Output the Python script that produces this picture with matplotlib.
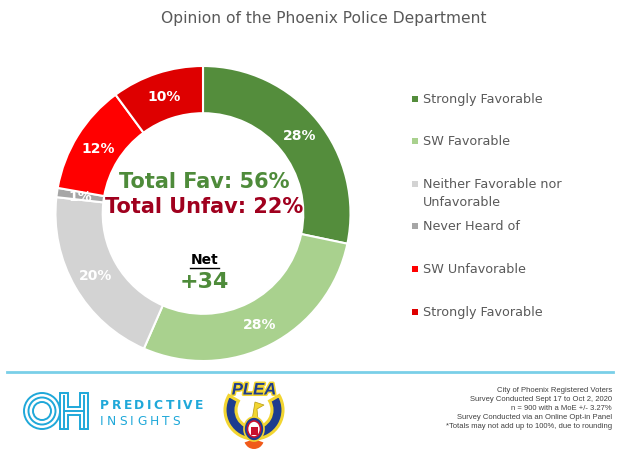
import matplotlib
matplotlib.use("Agg")
import matplotlib.pyplot as plt
import matplotlib.patheffects as pe
from matplotlib.patches import Circle, Rectangle, Ellipse, Wedge, Polygon
from matplotlib.lines import Line2D

# ---- data ----
categories = ["Strongly Favorable", "SW Favorable", "Neither Favorable nor\nUnfavorable",
              "Never Heard of", "SW Unfavorable", "Strongly Favorable"]
values = [28, 28, 20, 1, 12, 10]
colors = ["#548D3C", "#A9D18E", "#D3D3D3", "#A6A6A6", "#FF0000", "#DE0000"]
title = "Opinion of the Phoenix Police Department"
total_fav = "Total Fav: 56%"
total_unfav = "Total Unfav: 22%"
net_label = "Net"
net_value = "+34"
footnote = ["City of Phoenix Registered Voters",
            "Survey Conducted Sept 17 to Oct 2, 2020",
            "n = 900 with a MoE +/- 3.27%",
            "Survey Conducted via an Online Opt-in Panel",
            "*Totals may not add up to 100%, due to rounding"]

W, H = 620, 456
fig = plt.figure(figsize=(W / 100, H / 100), dpi=100)
fig.patch.set_facecolor("white")
renderer = fig.canvas.get_renderer()

def fx(px):
    return px / W

def fy(py):
    return 1 - py / H

# ---- donut ----
cx, cy, R = 203, 214.5, 147.5
ax = fig.add_axes([fx(cx - R), fy(cy + R), 2 * R / W, 2 * R / H])
wedges, texts = ax.pie(values, colors=colors, startangle=90, counterclock=False,
                       radius=1, labels=[f"{v}%" for v in values], labeldistance=0.84,
                       wedgeprops=dict(width=0.32, edgecolor="white", linewidth=1.5),
                       textprops=dict(color="white", fontsize=10, fontweight="bold"))
for t in texts:
    t.set_ha("center")
    t.set_va("center")
ax.set_xlim(-1, 1)
ax.set_ylim(-1, 1)
ax.set_aspect("equal")
ax.axis("off")

ax.text(0.01, 0.22, total_fav, ha="center", va="center", color="#4E8B3A",
        fontsize=15, fontweight="bold")
ax.text(0.01, 0.05, total_unfav, ha="center", va="center", color="#A0001E",
        fontsize=15, fontweight="bold")
ax.text(0.01, -0.31, net_label, ha="center", va="center", color="black",
        fontsize=10, fontweight="bold")
ax.plot([-0.09, 0.11], [-0.37, -0.37], color="black", lw=1)
ax.text(0.01, -0.46, net_value, ha="center", va="center", color="#4E8B3A",
        fontsize=16, fontweight="bold")

# ---- title ----
fig.text(fx(324), fy(18), title, ha="center", va="center", color="#595959", fontsize=11.2)

# ---- legend ----
leg_y = [100, 142, 185, 227, 270, 313]
for c, lab, y in zip(colors, categories, leg_y):
    fig.patches.append(Rectangle((fx(412), fy(y + 3)), 6 / W, 6 / H,
                                 transform=fig.transFigure, facecolor=c, edgecolor="none"))
    parts = lab.split("\n")
    for j, p in enumerate(parts):
        fig.text(fx(423), fy(y + 18 * j), p, ha="left", va="center",
                 color="#595959", fontsize=9.2)

# ---- footer line ----
fig.lines.append(Line2D([fx(7), fx(613)], [fy(373), fy(373)], transform=fig.transFigure,
                        color="#7ACFE8", lw=2))

# ---- OH logo ----
blue = "#1FA8D9"
lax = fig.add_axes([fx(22), fy(434), 68 / W, 44 / H])
lax.set_xlim(0, 68)
lax.set_ylim(0, 44)
lax.set_aspect("equal")
lax.axis("off")
for r in (18, 13.5, 9):
    lax.add_patch(Circle((20, 22), r, fill=False, edgecolor=blue, lw=1.4))
xl, xr, bw, y0, y1, cb = 38, 66, 8, 4, 40, 4
hpts = [(xl, y0), (xl + bw, y0), (xl + bw, 22 - cb), (xr - bw, 22 - cb), (xr - bw, y0),
        (xr, y0), (xr, y1), (xr - bw, y1), (xr - bw, 22 + cb), (xl + bw, 22 + cb),
        (xl + bw, y1), (xl, y1)]
lax.add_patch(Polygon(hpts, closed=True, fill=False, edgecolor=blue, lw=1.4))
lax.plot([xl + bw / 2, xl + bw / 2], [y0 + 2.5, y1 - 2.5], color=blue, lw=1.4)
lax.plot([xr - bw / 2, xr - bw / 2], [y0 + 2.5, y1 - 2.5], color=blue, lw=1.4)
lax.plot([xl + bw / 2, xr - bw / 2], [22, 22], color=blue, lw=1.4)

def spaced(word, x0, y, gap, **kw):
    x = x0
    for ch in word:
        t = fig.text(fx(x), fy(y), ch, ha="left", va="center", **kw)
        bb = t.get_window_extent(renderer=renderer)
        x += bb.width + gap

spaced("PREDICTIVE", 100, 406, 2.5, color=blue, fontsize=8.8, fontweight="bold")
spaced("INSIGHTS", 100, 422, 3.2, color=blue, fontsize=8.8)

# ---- PLEA badge ----
pax = fig.add_axes([fx(222), fy(455), 64 / W, 78 / H])
pax.set_xlim(0, 64)
pax.set_ylim(0, 78)
pax.set_aspect("equal")
pax.axis("off")
navy = "#1D3C8F"
yellow = "#F2D531"
pax.add_patch(Wedge((32, 15), 10, 200, 340, facecolor="#F05A1A", edgecolor="none"))
pax.add_patch(Wedge((32, 44), 29, 150, 390, width=11, facecolor=navy,
                    edgecolor=yellow, lw=2.2))
pax.add_patch(Polygon([(30, 34), (33, 52), (42, 49), (35, 45), (36, 34)], closed=True,
                      facecolor=yellow, edgecolor="#B59A10", lw=0.5))
pax.add_patch(Ellipse((32, 25), 20, 24, facecolor=navy, edgecolor=yellow, lw=1.2))
pax.add_patch(Ellipse((32, 25), 13, 16, facecolor="white", edgecolor="#C8102E", lw=1.2))
pax.add_patch(Rectangle((28.5, 19), 7, 8, facecolor="#C8102E", edgecolor="none"))
pax.text(32, 64, "PLEA", ha="center", va="center", color=navy, fontsize=12,
         fontweight="bold", style="italic", family="Liberation Sans",
         path_effects=[pe.withStroke(linewidth=2.2, foreground=yellow)])

# ---- footnote ----
for i, line in enumerate(footnote):
    fig.text(fx(612), fy(391 + i * 9), line, ha="right", va="center", color="#404040",
             fontsize=5.5, family="Liberation Sans")

fig.savefig("out.png", dpi=100, facecolor="white")
